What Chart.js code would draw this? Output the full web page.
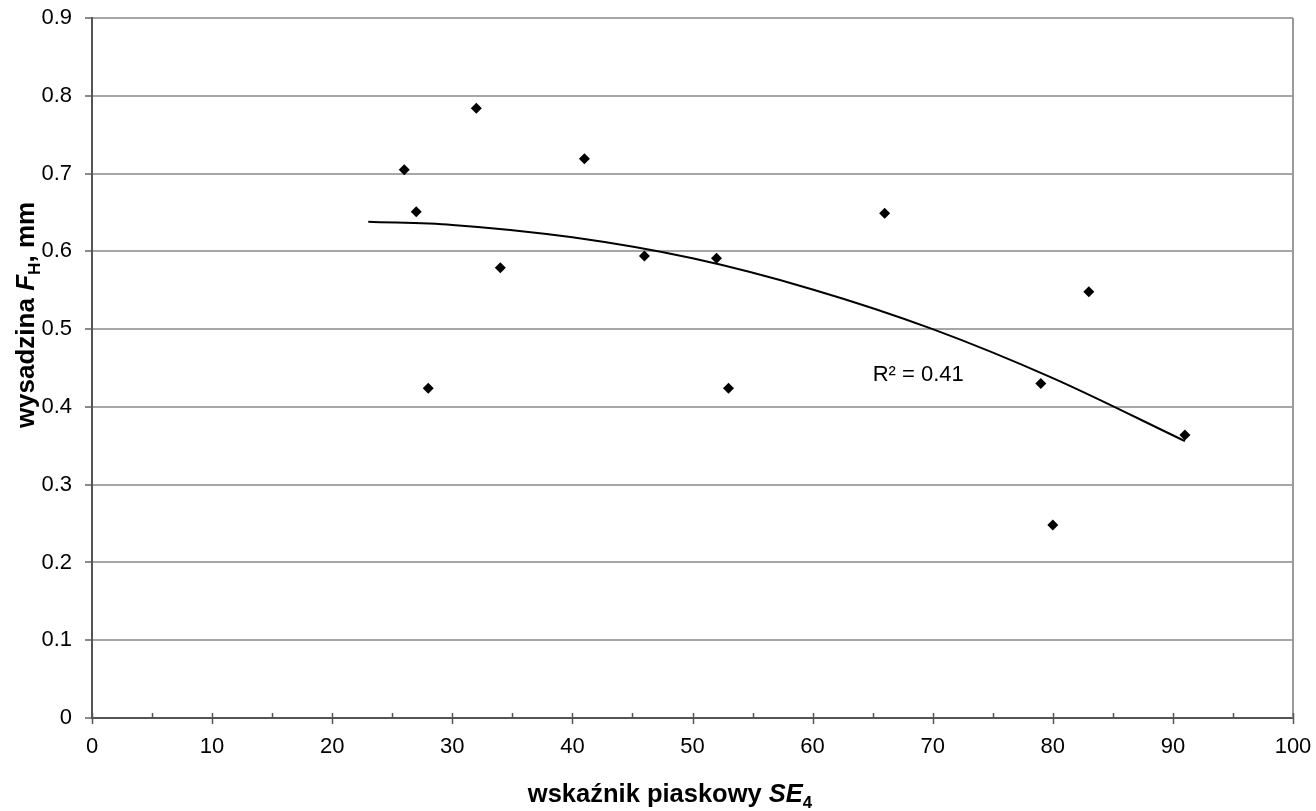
<!DOCTYPE html>
<html>
<head>
<meta charset="utf-8">
<script src="https://cdn.jsdelivr.net/npm/chart.js@4"></script>
<style>
  html, body { margin: 0; padding: 0; background: #fff; }
  #c { display: block; }
</style>
</head>
<body>
<canvas id="c" width="1316" height="811"></canvas>
<script>
// measured points: SE4 index vs frost heave F_H
const seValues = [26, 27, 28, 32, 34, 41, 46, 52, 53, 66, 79, 80, 83, 91];
const fhValues = [0.705, 0.651, 0.424, 0.784, 0.579, 0.719, 0.594, 0.591, 0.424, 0.649, 0.430, 0.248, 0.548, 0.364];

// trend curve
const trendX = [23, 30, 40, 50, 60, 70, 80, 91];
const trendY = [0.638, 0.634, 0.618, 0.591, 0.551, 0.500, 0.437, 0.356];

const xTickLabels = ['0', '10', '20', '30', '40', '50', '60', '70', '80', '90', '100'];
const yTickLabels = ['0', '0.1', '0.2', '0.3', '0.4', '0.5', '0.6', '0.7', '0.8', '0.9'];

const r2Text = 'R² = 0.41';
const r2At = { x: 65, y: 0.433 };

const FONT = "'Liberation Sans', Arial, sans-serif";

// draws mixed text (italic / subscript pieces) starting at x,y
function drawParts(ctx, parts, x, y, size) {
  parts.forEach(p => {
    const fs = p.sub ? size * 0.66 : size;
    ctx.font = (p.italic ? 'italic ' : '') + 'bold ' + fs + 'px ' + FONT;
    ctx.fillText(p.t, x, y + (p.sub ? size * 0.22 : 0));
    x += ctx.measureText(p.t).width;
  });
}
function partsWidth(ctx, parts, size) {
  let w = 0;
  parts.forEach(p => {
    const fs = p.sub ? size * 0.66 : size;
    ctx.font = (p.italic ? 'italic ' : '') + 'bold ' + fs + 'px ' + FONT;
    w += ctx.measureText(p.t).width;
  });
  return w;
}

const xTitle = [{ t: 'wskaźnik piaskowy ' }, { t: 'SE', italic: true }, { t: '4', sub: true }];
const yTitle = [{ t: 'wysadzina ' }, { t: 'F', italic: true }, { t: 'H', sub: true }, { t: ', mm' }];

const extras = {
  id: 'extras',
  afterDraw(chart) {
    const ctx = chart.ctx;
    const area = chart.chartArea;
    const xs = chart.scales.x;
    const ys = chart.scales.y;
    ctx.save();

    // right frame line
    ctx.strokeStyle = '#9a9a9a';
    ctx.lineWidth = 2;
    ctx.beginPath();
    ctx.moveTo(area.right, area.top);
    ctx.lineTo(area.right, area.bottom);
    ctx.stroke();

    // x tick marks: major every 10 crossing the axis, minor every 5 inside
    ctx.strokeStyle = '#555';
    ctx.lineWidth = 1.5;
    for (let v = 0; v <= 100; v += 5) {
      const px = Math.round(xs.getPixelForValue(v)) + 0.5;
      ctx.beginPath();
      ctx.moveTo(px, area.bottom - 5);
      ctx.lineTo(px, area.bottom + (v % 10 === 0 ? 6 : 0));
      ctx.stroke();
    }

    // R² label
    ctx.fillStyle = '#000';
    ctx.font = '22px ' + FONT;
    ctx.textBaseline = 'alphabetic';
    ctx.textAlign = 'left';
    ctx.fillText(r2Text, xs.getPixelForValue(r2At.x), ys.getPixelForValue(r2At.y));

    // x axis title
    const tw = partsWidth(ctx, xTitle, 25.5);
    drawParts(ctx, xTitle, 670 - tw / 2, 802, 25.5);

    // y axis title (rotated)
    ctx.translate(34, 315);
    ctx.rotate(-Math.PI / 2);
    const th = partsWidth(ctx, yTitle, 26);
    drawParts(ctx, yTitle, -th / 2, 0, 26);

    ctx.restore();
  }
};

new Chart(document.getElementById('c'), {
  type: 'scatter',
  data: {
    datasets: [
      {
        label: 'pomiary',
        data: seValues.map((x, i) => ({ x: x, y: fhValues[i] })),
        pointStyle: 'rectRot',
        pointRadius: 5.5,
        pointBackgroundColor: '#000',
        pointBorderColor: '#000',
        pointBorderWidth: 0,
        order: 1
      },
      {
        label: 'trend',
        type: 'line',
        data: trendX.map((x, i) => ({ x: x, y: trendY[i] })),
        borderColor: '#000',
        borderWidth: 2,
        pointRadius: 0,
        cubicInterpolationMode: 'monotone',
        fill: false,
        order: 2
      }
    ]
  },
  options: {
    responsive: false,
    devicePixelRatio: 1,
    animation: false,
    layout: { padding: { top: 18, right: 23, left: 0, bottom: 0 } },
    plugins: {
      legend: { display: false },
      tooltip: { enabled: false }
    },
    scales: {
      x: {
        type: 'linear',
        min: 0,
        max: 100,
        afterFit: s => { s.height = 93; s.paddingLeft = 0; s.paddingRight = 0; },
        grid: { display: false },
        border: { display: true, color: '#555', width: 2 },
        ticks: {
          stepSize: 10,
          padding: 8,
          color: '#000',
          font: { family: FONT, size: 22 },
          maxRotation: 0,
          callback: (v, i) => xTickLabels[i]
        }
      },
      y: {
        min: 0,
        max: 0.9,
        afterFit: s => { s.width = 92; s.paddingTop = 0; s.paddingBottom = 0; },
        grid: { color: '#a6a6a6', lineWidth: 2, tickLength: 7, tickColor: '#8a8a8a' },
        border: { display: true, color: '#555', width: 2 },
        ticks: {
          stepSize: 0.1,
          padding: 13,
          color: '#000',
          font: { family: FONT, size: 22 },
          callback: (v, i) => yTickLabels[i]
        }
      }
    }
  },
  plugins: [extras]
});
</script>
</body>
</html>
